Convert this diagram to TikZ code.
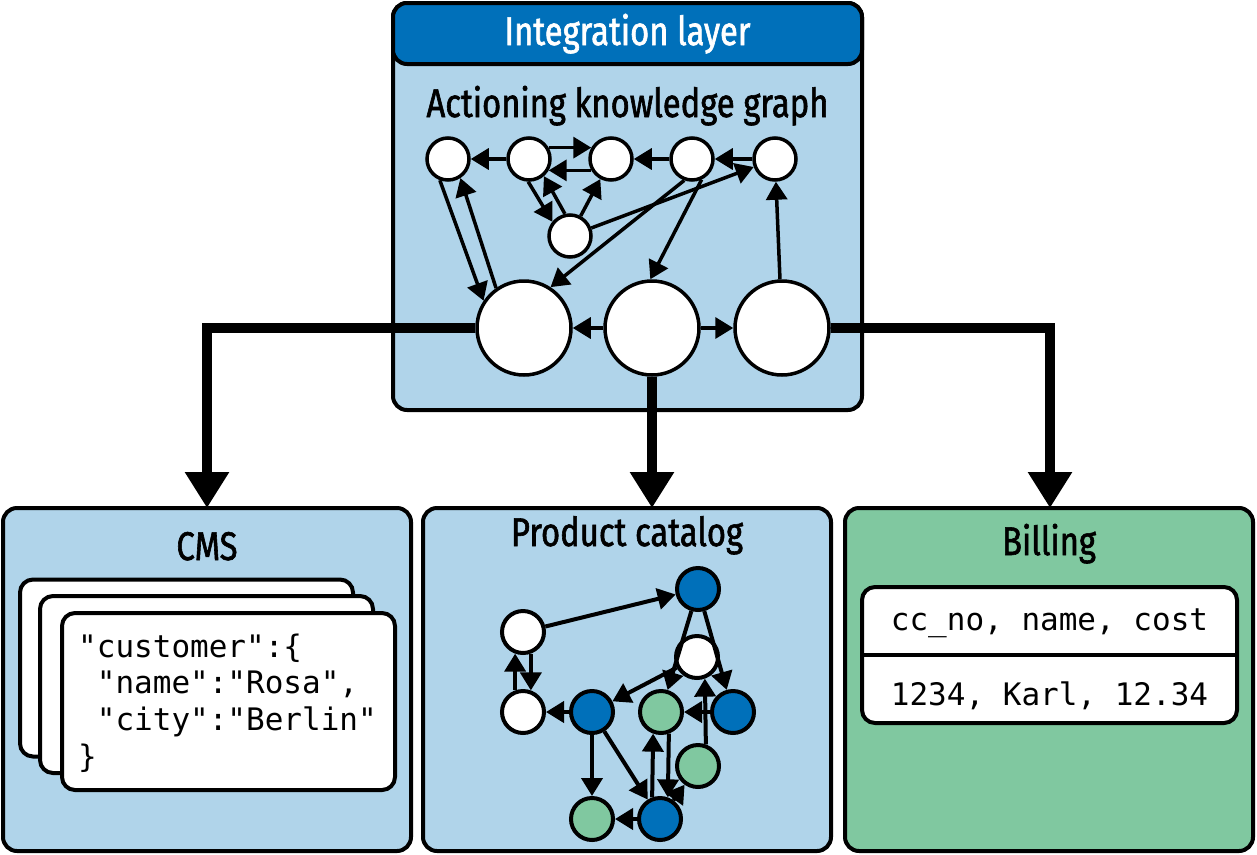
\documentclass[tikz,border=0pt]{standalone}
\usepackage{fontspec}
\setmainfont{Fira Sans}[FakeStretch=0.82, FakeBold=1.5]
\setmonofont{DejaVu Sans Mono}
\usetikzlibrary{arrows.meta}
\definecolor{lblue}{RGB}{176,212,234}
\definecolor{dblue}{RGB}{0,112,186}
\definecolor{lgreen}{RGB}{128,200,160}
\begin{document}
\begin{tikzpicture}[x=1pt,y=-1pt,
  panel/.style={draw, line width=4pt, rounded corners=14pt, inner sep=0pt, rectangle},
  card/.style={draw, fill=white, line width=4pt, rounded corners=13pt, inner sep=0pt, rectangle, minimum width=333pt, minimum height=177pt},
  title/.style={font=\fontsize{40}{44}\selectfont, anchor=base, inner sep=0pt},
  mono/.style={font=\ttfamily\fontsize{31}{36}\selectfont, inner sep=0pt},
  sm/.style={circle, draw, fill=white, line width=3.5pt, minimum size=42pt, inner sep=0pt},
  bg/.style={circle, draw, fill=white, line width=3.5pt, minimum size=94pt, inner sep=0pt},
  pn/.style={circle, draw, line width=4pt, minimum size=42pt, inner sep=0pt},
  ed/.style={line width=3.5pt, -{Triangle[length=18pt,width=21pt]}},
  ped/.style={line width=4pt, -{Triangle[length=18pt,width=21pt]}},
  thick/.style={line width=9.5pt, -{Triangle[length=36pt,width=42pt]}}
]
\useasboundingbox (0,0) rectangle (1257,854);

% integration layer
\node[panel, fill=lblue, minimum width=469pt, minimum height=407pt] (intbox) at (627.5,206.5) {};
\node[panel, fill=dblue, minimum width=469pt, minimum height=61pt] (inthead) at (627.5,33.5) {};
\node[title, text=white] (inttitle) at (627.5,45) {Integration layer};
\node[title] (kgtitle) at (627.5,117) {Actioning knowledge graph};

% bottom panels
\node[panel, fill=lblue, minimum width=408pt, minimum height=343pt] (cms) at (207,679.5) {};
\node[panel, fill=lblue, minimum width=408pt, minimum height=343pt] (prod) at (627,679.5) {};
\node[panel, fill=lgreen, minimum width=408pt, minimum height=343pt] (bill) at (1049,679.5) {};
\node[title] (cmst) at (207,560) {CMS};
\node[title] (prodt) at (627,546) {Product catalog};
\node[title] (billt) at (1049,555) {Billing};

% CMS cards
\node[card] (card1) at (186.5,668) {};
\node[card] (card2) at (206.5,684.5) {};
\node[card] (card3) at (228.5,701.5) {};
\node[mono, anchor=base west] (l1) at (78,657) {"customer":\{};
\node[mono, anchor=base west] (l2) at (78,693) {\hphantom{x}"name":"Rosa",};
\node[mono, anchor=base west] (l3) at (78,730) {\hphantom{x}"city":"Berlin"};
\node[mono, anchor=base west] (l4) at (78,767) {\}};

% billing table
\node[draw, fill=white, line width=4pt, rounded corners=13pt, rectangle, inner sep=0pt, minimum width=375pt, minimum height=136pt] (tab) at (1049.5,655) {};
\draw[line width=4pt] (tab.west) -- (tab.east);
\node[mono, anchor=base] (th) at (1049.5,630) {cc\_no, name, cost};
\node[mono, anchor=base] (tr) at (1049.5,705) {1234, Karl, 12.34};

% knowledge graph nodes
\node[sm] (n1) at (448,159) {};
\node[sm] (n2) at (529,159) {};
\node[sm] (n3) at (611,159) {};
\node[sm] (n4) at (692,159) {};
\node[sm] (n5) at (775,159) {};
\node[sm] (n6) at (570,236) {};

\coordinate (cmsin) at (207,508);
\coordinate (prodin) at (652,508);
\coordinate (billin) at (1050,508);

\node[bg] (b1) at (524,328) {};
\node[bg] (b2) at (652,328) {};
\node[bg] (b3) at (782,328) {};

% thick connectors
\draw[thick] (b1.west) -| (cmsin);
\draw[thick] (b2.south) -- (prodin);
\draw[thick] (b3.east) -| (billin);

% knowledge graph edges
\draw[ed] (n2) -- (n1);
\draw[ed] (n2.30) -- (n3.150);
\draw[ed] (n3.210) -- (n2.330);
\draw[ed] (n4) -- (n3);
\draw[ed] (n5) -- (n4);
\draw[ed] (n1.249) -- (b1.146);
\draw[ed] (b1.125) -- (n1.303);
\draw[ed] (n2.268) -- (n6.141);
\draw[ed] (n6.103) -- (n2.311);
\draw[ed] (n6) -- (n3);
\draw[ed] (n6) -- (n5);
\draw[ed] (n4.250) -- (b1.57);
\draw[ed] (n4.295) -- (b2.92);
\draw[ed] (b3) -- (n5);
\draw[ed] (b2) -- (b1);
\draw[ed] (b2) -- (b3);

% product catalog graph
\node[pn, fill=white] (p1) at (523,632) {};
\node[pn, fill=white] (p2) at (523,712) {};
\node[pn, fill=dblue] (p3) at (592,712) {};
\node[pn, fill=lgreen] (p4) at (661,712) {};
\node[pn, fill=dblue] (p5) at (733,712) {};
\node[pn, fill=dblue] (p6) at (698,589) {};
\node[pn, fill=white] (p7) at (697,657) {};
\node[pn, fill=lgreen] (p8) at (698,766) {};
\node[pn, fill=lgreen] (p9) at (592,819) {};
\node[pn, fill=dblue] (p10) at (660,819) {};

\draw[ped] (p1) -- (p6);
\draw[ped] (p1.290) -- (p2.70);
\draw[ped] (p2.110) -- (p1.250);
\draw[ped] (p3) -- (p2);
\draw[ped] (p7) -- (p3);
\draw[ped] (p6) -- (p4);
\draw[ped] (p6) -- (p5);
\draw[ped] (p5) -- (p4);
\draw[ped] (p8.70) -- (p7.290);
\draw[ped] (p3) -- (p9);
\draw[ped] (p3) -- (p10);
\draw[ped] (p10.110) -- (p4.250);
\draw[ped] (p4.290) -- (p10.70);
\draw[ped] (p10) -- (p9);
\draw[ped] (p10) -- (p8);
\end{tikzpicture}
\end{document}
